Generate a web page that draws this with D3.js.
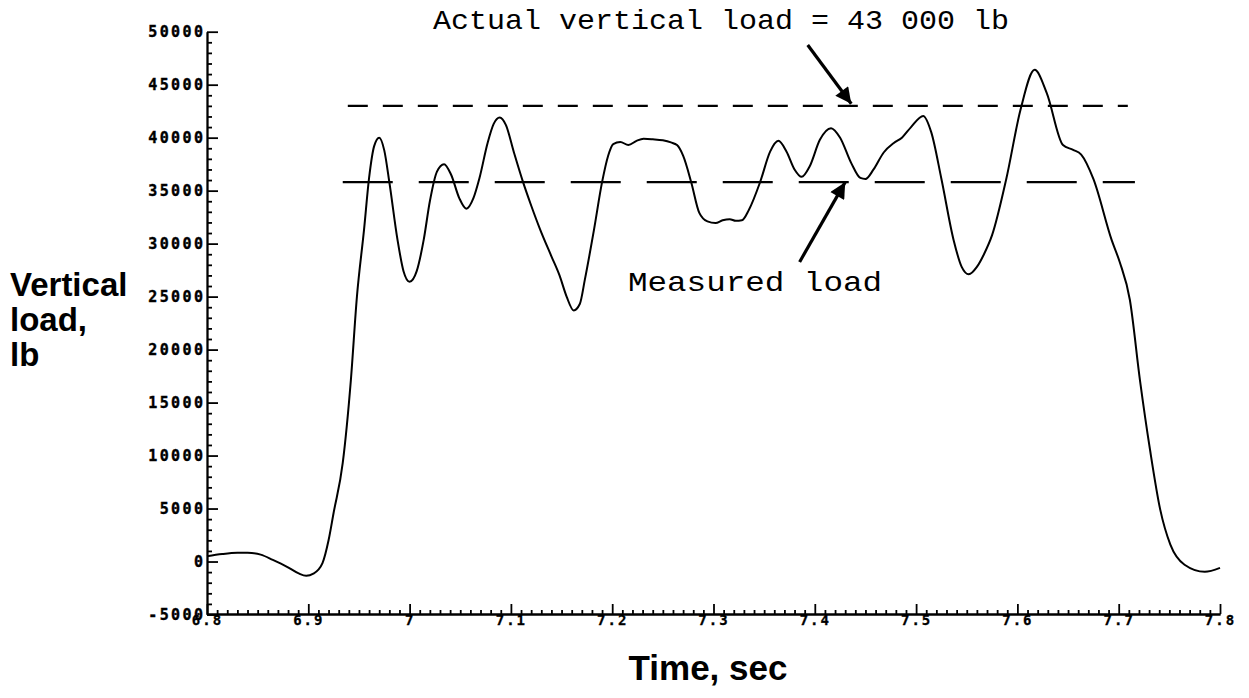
<!DOCTYPE html>
<html>
<head>
<meta charset="utf-8">
<script src="https://cdn.jsdelivr.net/npm/d3@7"></script>
<style>
  html, body { margin: 0; padding: 0; background: #fff; }
  svg { display: block; }
</style>
</head>
<body>
<svg id="chart" width="1249" height="698"></svg>
<script>
// ---------- data ----------
const timeSec = [6.800,6.815,6.830,6.840,6.853,6.865,6.879,6.890,6.898,6.905,6.914,6.920,6.925,6.934,6.942,6.948,6.955,6.960,6.965,6.970,6.975,6.980,6.988,6.994,7.000,7.007,7.014,7.020,7.027,7.034,7.041,7.049,7.056,7.063,7.069,7.077,7.083,7.089,7.095,7.103,7.112,7.120,7.129,7.140,7.148,7.155,7.162,7.168,7.173,7.182,7.190,7.196,7.201,7.208,7.216,7.224,7.231,7.240,7.250,7.258,7.264,7.270,7.278,7.286,7.294,7.302,7.309,7.316,7.322,7.328,7.335,7.346,7.356,7.364,7.372,7.380,7.387,7.395,7.405,7.416,7.425,7.436,7.445,7.450,7.458,7.468,7.478,7.486,7.495,7.507,7.515,7.525,7.537,7.545,7.552,7.560,7.567,7.575,7.589,7.603,7.617,7.629,7.645,7.655,7.663,7.675,7.693,7.701,7.711,7.721,7.731,7.741,7.751,7.765,7.785,7.800];
const loadLb = [500,700,820,830,650,150,-500,-1100,-1350,-1150,-150,2000,4600,9300,17100,25000,31300,36200,39200,40000,38800,35800,30400,27400,26400,27400,30400,34000,36800,37500,36500,34300,33300,34300,36200,39500,41300,41900,41200,38600,35800,33600,31300,28800,27000,25000,23700,24300,26600,31300,35800,38300,39400,39600,39300,39700,39900,39850,39750,39550,39300,38300,35800,32900,32100,31950,32200,32300,32150,32200,33200,35800,38700,39700,38700,37000,36300,37300,39800,40900,40000,37600,36200,36100,37000,38600,39500,40000,41000,42050,40500,36100,30350,27800,27100,27800,29000,30800,36100,42600,46400,44200,39300,38850,38400,36100,30350,28260,24700,17100,10500,4900,1600,-300,-970,-600];

const xTickValues = [6.8,6.9,7.0,7.1,7.2,7.3,7.4,7.5,7.6,7.7,7.8];
const xTickLabels = ["6.8","6.9","7","7.1","7.2","7.3","7.4","7.5","7.6","7.7","7.8"];
const yTickValues = [-5000,0,5000,10000,15000,20000,25000,30000,35000,40000,45000,50000];
const yTickLabels = ["-5000","0","5000","10000","15000","20000","25000","30000","35000","40000","45000","50000"];

const refLoads = [43000, 35800];          // actual, measured (mean) load
const refStart = [6.939, 6.934];
const refEnd   = [7.709, 7.716];

const annoTexts = ["Actual vertical load = 43 000 lb", "Measured load"];
const annoTextT = [7.023, 7.2156];
const annoTextV = [50250, 25540];
const arrowFromT = [7.393, 7.385];
const arrowFromV = [48750, 28270];
const arrowToT   = [7.436, 7.430];
const arrowToV   = [43200, 35800];

const yTitleLines = ["Vertical", "load,", "lb"];
const xTitle = "Time, sec";

// ---------- scales ----------
const svg = d3.select("#chart");
const x = d3.scaleLinear().domain([6.8, 7.8]).range([207, 1220]);
const y = d3.scaleLinear().domain([-5000, 50000]).range([614.5, 31.7]);

const tickFont = "'DejaVu Sans Mono', monospace";

// ---------- y axis ----------
const yMinor = d3.range(-5000, 50001, 1000).filter(v => v % 5000 !== 0);
const yAxisMinor = d3.axisLeft(y).tickValues(yMinor).tickSizeInner(-5).tickSizeOuter(0).tickFormat("");
const gYm = svg.append("g").attr("transform", "translate(207,0)").call(yAxisMinor);
const yAxis = d3.axisLeft(y).tickValues(yTickValues).tickSizeInner(-11).tickSizeOuter(0).tickPadding(4)
  .tickFormat((d, i) => yTickLabels[i]);
const gY = svg.append("g").attr("transform", "translate(207,0)").call(yAxis);

// ---------- x axis ----------
const xMinor = d3.range(0, 101).map(i => 6.8 + i * 0.01).filter((d, i) => i % 10 !== 0);
const xAxisMinor = d3.axisBottom(x).tickValues(xMinor).tickSizeInner(-4).tickSizeOuter(0).tickFormat("");
const gXm = svg.append("g").attr("transform", "translate(0,614)").call(xAxisMinor);
const xAxis = d3.axisBottom(x).tickValues(xTickValues).tickSizeInner(-10).tickSizeOuter(0).tickPadding(3)
  .tickFormat((d, i) => xTickLabels[i]);
const gX = svg.append("g").attr("transform", "translate(0,614)").call(xAxis);

[gYm, gY, gXm, gX].forEach(g => {
  g.selectAll("path.domain").attr("stroke", "#000").attr("stroke-width", 1.8);
  g.selectAll("line").attr("stroke", "#000").attr("stroke-width", 1.8);
});
gY.selectAll("text").attr("font-family", tickFont).attr("font-weight", "bold")
  .attr("font-size", 15).attr("letter-spacing", "2.4px").attr("fill", "#000")
  .attr("stroke", "#000").attr("stroke-width", 0.4)
  .attr("dx", "2.4px");
gX.selectAll("text").attr("font-family", tickFont).attr("font-weight", "bold")
  .attr("font-size", 14).attr("letter-spacing", "2px").attr("fill", "#000")
  .attr("stroke", "#000").attr("stroke-width", 0.3)
  .attr("dy", "0.6em");

// ---------- reference dashed lines ----------
const dashes = ["20,15", "50,26"];
refLoads.forEach((v, i) => {
  svg.append("line")
    .attr("x1", x(refStart[i])).attr("x2", x(refEnd[i]))
    .attr("y1", y(v)).attr("y2", y(v))
    .attr("stroke", "#000").attr("stroke-width", 2.2)
    .attr("stroke-dasharray", dashes[i]);
});

// ---------- curve ----------
const pts = timeSec.map((t, i) => [t, loadLb[i]]);
const line = d3.line().x(d => x(d[0])).y(d => y(d[1])).curve(d3.curveMonotoneX);
svg.append("path").datum(pts).attr("d", line)
  .attr("fill", "none").attr("stroke", "#000").attr("stroke-width", 2);

// ---------- annotations ----------
svg.append("defs").append("marker")
  .attr("id", "ah").attr("viewBox", "0 0 10 10").attr("refX", 10).attr("refY", 5)
  .attr("markerWidth", 7).attr("markerHeight", 5).attr("orient", "auto")
  .attr("markerUnits", "strokeWidth")
  .append("path").attr("d", "M0,0 L10,5 L0,10 Z").attr("fill", "#000");

annoTexts.forEach((s, i) => {
  svg.append("text").attr("x", x(annoTextT[i])).attr("y", y(annoTextV[i]))
    .attr("font-family", "'Liberation Mono', 'Courier New', monospace")
    .attr("font-size", 28).attr("fill", "#000")
    .attr("textLength", i === 0 ? 576 : 254).attr("lengthAdjust", "spacingAndGlyphs")
    .text(s);
  svg.append("line")
    .attr("x1", x(arrowFromT[i])).attr("y1", y(arrowFromV[i]))
    .attr("x2", x(arrowToT[i])).attr("y2", y(arrowToV[i]))
    .attr("stroke", "#000").attr("stroke-width", 3.2)
    .attr("marker-end", "url(#ah)");
});

// ---------- titles ----------
yTitleLines.forEach((s, i) => {
  svg.append("text").attr("x", 10).attr("y", 296 + i * 35)
    .attr("font-family", "'Liberation Sans', Arial, sans-serif")
    .attr("font-weight", "bold").attr("font-size", 33).attr("fill", "#000")
    .text(s);
});
svg.append("text").attr("x", 708).attr("y", 680).attr("text-anchor", "middle")
  .attr("font-family", "'Liberation Sans', Arial, sans-serif")
  .attr("font-weight", "bold").attr("font-size", 35).attr("fill", "#000")
  .text(xTitle);
</script>
</body>
</html>
